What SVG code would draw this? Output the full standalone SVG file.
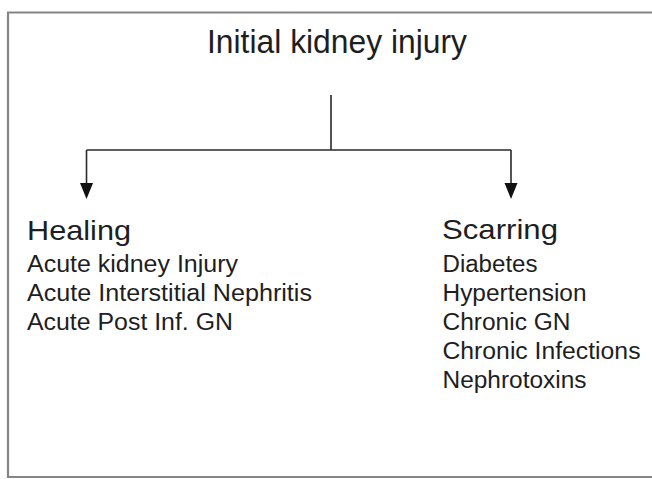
<svg xmlns="http://www.w3.org/2000/svg" width="652" height="479" viewBox="0 0 652 479">
<style>
.t{font-family:"Liberation Sans",Arial,sans-serif;fill:#1e1e1e}
.title{font-size:33px}
.head{font-size:28px}
.item{font-size:23px}
.ln{stroke:#2a2a2a;stroke-width:1.6;fill:none}
.ah{fill:#111}
</style>
<rect x="0" y="0" width="652" height="479" fill="#fff"/>
<path d="M652,12.5 H8 V477 H652" fill="none" stroke="#858585" stroke-width="2.2"/>
<g id="connectors">
<line class="ln" x1="331" y1="95" x2="331" y2="150"/>
<line class="ln" x1="86.5" y1="150" x2="511" y2="150"/>
<line class="ln" x1="86.5" y1="150" x2="86.5" y2="186"/>
<line class="ln" x1="511" y1="150" x2="511" y2="186"/>
<polygon class="ah" points="80,183 93,183 86.5,199"/>
<polygon class="ah" points="504.5,183 517.5,183 511,199"/>
</g>
<g id="node-initial">
<text class="t title" x="207" y="53" textLength="260" lengthAdjust="spacingAndGlyphs">Initial kidney injury</text>
</g>
<g id="node-healing">
<text class="t head" x="27" y="240" textLength="104" lengthAdjust="spacingAndGlyphs">Healing</text>
<text class="t item" x="27" y="272" textLength="211" lengthAdjust="spacingAndGlyphs">Acute kidney Injury</text>
<text class="t item" x="27" y="301" textLength="285" lengthAdjust="spacingAndGlyphs">Acute Interstitial Nephritis</text>
<text class="t item" x="27" y="330" textLength="206" lengthAdjust="spacingAndGlyphs">Acute Post Inf. GN</text>
</g>
<g id="node-scarring">
<text class="t head" x="442" y="239" textLength="116" lengthAdjust="spacingAndGlyphs">Scarring</text>
<text class="t item" x="442.5" y="272" textLength="95" lengthAdjust="spacingAndGlyphs">Diabetes</text>
<text class="t item" x="442.5" y="301" textLength="144" lengthAdjust="spacingAndGlyphs">Hypertension</text>
<text class="t item" x="442.5" y="330" textLength="128" lengthAdjust="spacingAndGlyphs">Chronic GN</text>
<text class="t item" x="442.5" y="359" textLength="198" lengthAdjust="spacingAndGlyphs">Chronic Infections</text>
<text class="t item" x="442.5" y="388" textLength="144" lengthAdjust="spacingAndGlyphs">Nephrotoxins</text>
</g>
</svg>
